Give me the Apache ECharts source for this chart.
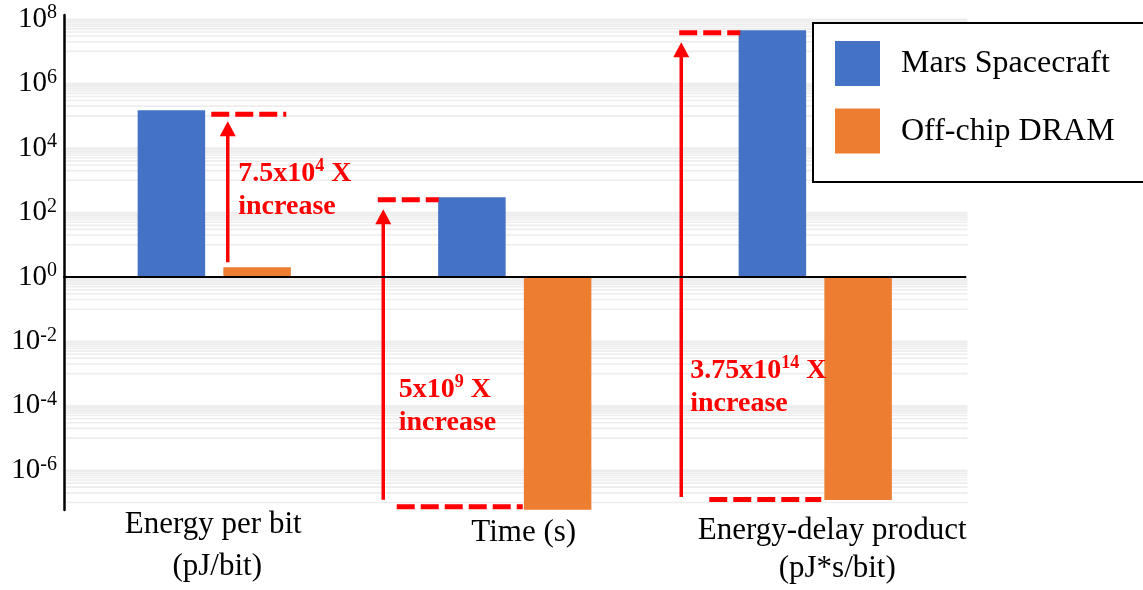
<!DOCTYPE html>
<html><head><meta charset="utf-8">
<script src="https://cdn.jsdelivr.net/npm/echarts@6/dist/echarts.min.js"></script>
<style>html,body{margin:0;padding:0;background:#fff}#c{width:1143px;height:590px}</style>
</head><body><div id="c"></div>
<script>
// ---- data ----
const categories = ['Energy per bit\n(pJ/bit)', 'Time (s)', 'Energy-delay product\n(pJ*s/bit)'];
const seriesNames = ['Mars Spacecraft', 'Off-chip DRAM'];
const marsValues = [1.5e5, 300, 4.5e7];
const dramValues = [2, 6e-8, 1.2e-7];
const exponentTicks = [-6, -4, -2, 0, 2, 4, 6, 8];
const increaseMantissa = ['7.5', '5', '3.75'];
const increaseExponent = ['4', '9', '14'];

// ---- rendering ----
const FONT = "'Liberation Serif', 'Times New Roman', serif";
const RED = '#FF0000';
const lg = v => Math.log10(v);
const yMin = lg(dramValues[1]) - 0.01, yMax = 8.13;

// gridline positions (axis styling): k*10^e for odd e, k = 1..10
const gridVals = [];
for (let e = -7; e <= 7; e += 2) for (let k = 1; k <= 10; k++) {
  const v = Math.log10(k) + e;
  if (v >= yMin && v <= yMax && Math.abs(v) > 1e-9) gridVals.push([0, v]);
}

// annotation layout (pixel offsets relative to category centre / bar ends)
const annot = [
  {dash: [[-3, 72, 'M', 4]], arrow: {dx: 13.5, from: ['D', -5], to: ['M', 11]}, text: {dx: 24, ref: 'M', dy: 80}},
  {dash: [[-137, -76, 'M', 2.5], [-118, 8, 'D', -3]], arrow: {dx: -131.5, from: ['D', -10], to: ['M', 12]}, text: {dx: -116, ref: 'D', dy: -103}},
  {dash: [[-136, -75, 'M', 2.5], [-106, 6, 'D', -0.5]], arrow: {dx: -134, from: ['D', -3], to: ['M', 12]}, text: {dx: -125, ref: 'D', dy: -113}}
];

const chart = echarts.init(document.getElementById('c'), null, {renderer: 'canvas'});
const option = {
  animation: false,
  backgroundColor: '#fff',
  grid: {left: 64, right: 177.5, top: 15, bottom: 80, containLabel: false},
  legend: {
    data: seriesNames, z: 10,
    orient: 'vertical', left: 812, top: 21,
    icon: 'rect', itemWidth: 45, itemHeight: 45, itemGap: 22.6,
    padding: [20, 20, 26, 23],
    textStyle: {fontFamily: FONT, fontSize: 32, color: '#000', padding: [0, 0, 0, 16]},
    selectedMode: false
  },
  xAxis: [{
    type: 'category', data: categories, z: 5,
    axisLine: {onZero: true, lineStyle: {color: '#000', width: 2}},
    axisTick: {show: false}, axisLabel: {show: false}, splitLine: {show: false}
  }],
  yAxis: [{
    type: 'value', min: yMin, max: yMax, z: 5,
    axisLine: {show: true, lineStyle: {color: '#000', width: 2.5}},
    axisTick: {show: false},
    splitLine: {show: false},
    axisLabel: {
      customValues: exponentTicks,
      margin: 7,
      formatter: v => '{b|10}{s|' + Math.round(v) + '}',
      rich: {
        b: {fontFamily: FONT, fontSize: 29, color: '#000', lineHeight: 32},
        s: {fontFamily: FONT, fontSize: 20, color: '#000', lineHeight: 32, verticalAlign: 'top', padding: [0, 0, 13, 0]}
      }
    }
  }],
  series: [
    {
      name: 'grid', type: 'custom', z: 1, silent: true,
      data: gridVals, encode: {x: 0, y: 1},
      renderItem: (params, api) => {
        const cs = params.coordSys;
        const y = api.coord([0, api.value(1)])[1];
        return {type: 'line', shape: {x1: cs.x + 1.5, y1: y, x2: cs.x + cs.width + 2, y2: y},
                style: {stroke: '#ededed', lineWidth: 1.6}};
      }
    },
    {name: seriesNames[0], type: 'bar', barWidth: 67.5, barGap: '27%', z: 2,
     itemStyle: {color: '#4472C4'}, data: marsValues.map(lg)},
    {name: seriesNames[1], type: 'bar', barWidth: 67.5, barGap: '27%', z: 2,
     itemStyle: {color: '#ED7D31'}, data: dramValues.map(lg)},
    {
      name: 'annotations', type: 'custom', z: 4, silent: true,
      data: [[0, 0], [1, 0], [2, 0]], encode: {x: 0, y: 1},
      renderItem: (params, api) => {
        const i = params.dataIndex;
        const cx = api.coord([i, 0])[0];
        const ref = {M: api.coord([i, lg(marsValues[i])])[1], D: api.coord([i, lg(dramValues[i])])[1]};
        const a = annot[i];
        const children = [];
        a.dash.forEach(d => {
          const y = ref[d[2]] + d[3];
          children.push({type: 'line', shape: {x1: cx + d[0], y1: y, x2: cx + d[1], y2: y},
            style: {stroke: RED, lineWidth: 5, lineDash: [18, 6]}});
        });
        const ax = cx + a.arrow.dx;
        const yb = ref[a.arrow.from[0]] + a.arrow.from[1];
        const yt = ref[a.arrow.to[0]] + a.arrow.to[1];
        children.push({type: 'line', shape: {x1: ax, y1: yb, x2: ax, y2: yt + 10},
          style: {stroke: RED, lineWidth: 3.5}});
        children.push({type: 'polygon', shape: {points: [[ax, yt], [ax - 8, yt + 15], [ax + 8, yt + 15]]},
          style: {fill: RED}});
        children.push({type: 'text', x: cx + a.text.dx, y: ref[a.text.ref] + a.text.dy,
          style: {
            text: '{b|' + increaseMantissa[i] + 'x10}{s|' + increaseExponent[i] + '}{b| X}\n{b|increase}',
            align: 'left', verticalAlign: 'middle',
            rich: {
              b: {fontFamily: FONT, fontSize: 28, fontWeight: 'bold', fill: RED, lineHeight: 33},
              s: {fontFamily: FONT, fontSize: 18, fontWeight: 'bold', fill: RED, lineHeight: 33, verticalAlign: 'top', padding: [0, 0, 12, 0]}
            }
          }});
        return {type: 'group', children};
      }
    }
  ]
};
chart.setOption(option);

// category labels under the plot + legend frame (runs off the right edge)
const labelOffsets = [[[-1, 15], [3, 57]], [[9, 23]], [[17, 21], [22, 59]]];
const yBottom = chart.convertToPixel({yAxisIndex: 0}, yMin);
const graphics = [{type: 'rect', left: 812, top: 22, z: 5, silent: true,
  shape: {width: 420, height: 159}, style: {fill: '#fff', stroke: '#000', lineWidth: 2}}];
categories.forEach((c, i) => {
  const cx = chart.convertToPixel({xAxisIndex: 0}, i);
  c.split('\n').forEach((line, j) => {
    const off = labelOffsets[i][j];
    graphics.push({type: 'text', x: cx + off[0], y: yBottom + off[1], silent: true,
      style: {text: line, fontFamily: FONT, fontSize: 31, fill: '#000', align: 'center', verticalAlign: 'middle'}});
  });
});
chart.setOption({graphic: graphics});
</script></body></html>
